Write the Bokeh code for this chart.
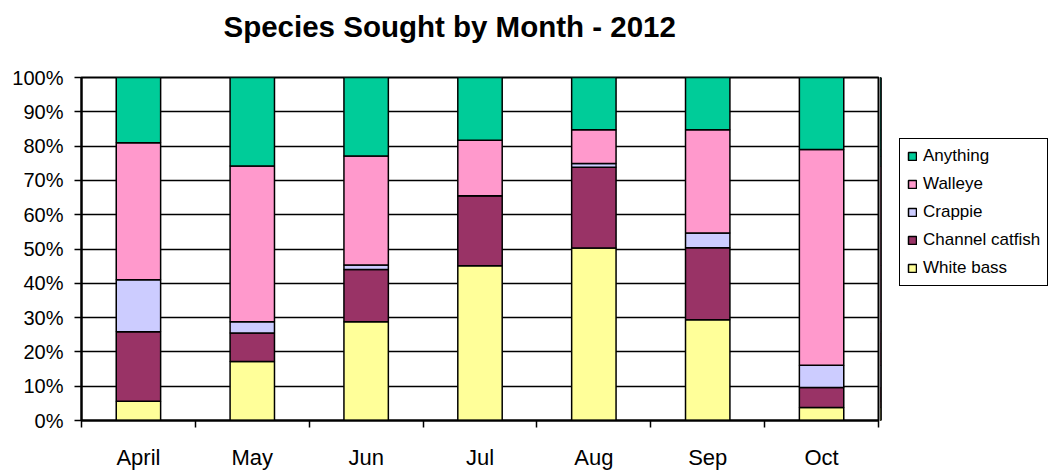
from bokeh.plotting import figure
from bokeh.layouts import row
from bokeh.models import (ColumnDataSource, FixedTicker, NumeralTickFormatter,
                          Legend, LegendItem, Range1d, Title)
from bokeh.embed import file_html
from bokeh.resources import INLINE

months = ["April", "May", "Jun", "Jul", "Aug", "Sep", "Oct"]
white_bass = [5.6, 17.2, 28.8, 45.1, 50.3, 29.4, 3.8]
channel_catfish = [20.3, 8.3, 15.2, 20.4, 23.5, 21.0, 5.8]
crappie = [15.1, 3.3, 1.3, 0.0, 1.1, 4.3, 6.5]
walleye = [40.0, 45.4, 31.8, 16.2, 9.9, 30.1, 62.9]
anything = [19.0, 25.8, 22.9, 18.3, 15.2, 15.2, 21.0]

series = ["White bass", "Channel catfish", "Crappie", "Walleye", "Anything"]
colors = ["#FFFF99", "#993366", "#CCCCFF", "#FF99CC", "#00CC99"]

FONT = "Liberation Sans"

data = {"x": [i + 0.5 for i in range(len(months))]}
for name, vals in zip(series, [white_bass, channel_catfish, crappie, walleye, anything]):
    data[name] = [v / 100.0 for v in vals]
src = ColumnDataSource(data)

p = figure(width=880, height=472, output_backend="svg", toolbar_location=None,
           x_range=Range1d(0, len(months)), y_range=Range1d(0, 1),
           min_border_left=81, min_border_right=2, min_border_top=77,
           min_border_bottom=51)

renderers = p.vbar_stack(series, x="x", width=0.39, source=src, color=colors,
                         line_color="black", line_width=1.5)

# spacer (nearest to frame) then the title above it
p.add_layout(Title(text=" ", text_font_size="10px", standoff=15), "above")
p.add_layout(Title(text="Species Sought by Month - 2012", align="left", offset=142,
                   standoff=14, text_font=FONT, text_font_size="29.5px",
                   text_font_style="bold", text_color="black"), "above")

# axes
p.yaxis.ticker = FixedTicker(ticks=[i / 10 for i in range(11)])
p.yaxis.formatter = NumeralTickFormatter(format="0%")
p.yaxis.major_tick_out = 7
p.yaxis.major_tick_in = 0
p.yaxis.minor_tick_out = 0
p.yaxis.minor_tick_in = 0
p.yaxis.major_label_standoff = 11
p.yaxis.major_label_text_font = FONT
p.yaxis.major_label_text_font_size = "20px"
p.yaxis.major_label_text_color = "black"
p.yaxis.axis_line_color = "black"
p.yaxis.axis_line_width = 2
p.yaxis.major_tick_line_color = "black"
p.yaxis.major_tick_line_width = 1.5

p.xaxis.ticker = FixedTicker(ticks=[i + 0.5 for i in range(len(months))],
                             minor_ticks=list(range(len(months) + 1)))
p.xaxis.major_label_overrides = {i + 0.5: m for i, m in enumerate(months)}
p.xaxis.major_tick_out = 0
p.xaxis.major_tick_in = 0
p.xaxis.minor_tick_out = 7
p.xaxis.minor_tick_in = 0
p.xaxis.minor_tick_line_color = "black"
p.xaxis.minor_tick_line_width = 1.5
p.xaxis.major_label_standoff = 17
p.xaxis.major_label_text_font = FONT
p.xaxis.major_label_text_font_size = "22px"
p.xaxis.major_label_text_color = "black"
p.xaxis.axis_line_color = "black"
p.xaxis.axis_line_width = 2

p.xgrid.grid_line_color = None
p.ygrid.ticker = FixedTicker(ticks=[i / 10 for i in range(11)])
p.ygrid.grid_line_color = "black"
p.ygrid.grid_line_width = 1.5
p.outline_line_color = "black"
p.outline_line_width = 2
p.outline_line_alpha = 1

# legend panel to the right (its own small canvas; its bars lie outside its view)
pl = figure(width=174, height=472, output_backend="svg", toolbar_location=None,
            x_range=Range1d(100, 101), y_range=Range1d(0, 1),
            x_axis_type=None, y_axis_type=None, min_border=0)
pl.grid.grid_line_color = None
pl.outline_line_color = None
leg_renderers = pl.vbar_stack(series, x="x", width=0.39, source=src, color=colors,
                              line_color="black", line_width=1.5)

items = [LegendItem(label=name, renderers=[r]) for name, r in zip(series, leg_renderers)][::-1]
legend = Legend(items=items, location=(19, 134), glyph_width=10, glyph_height=10,
                label_text_font=FONT, label_text_font_size="17px",
                label_text_color="black",
                label_height=20, spacing=8, padding=7, margin=0,
                label_standoff=6, border_line_color="black", border_line_width=1.5,
                border_line_alpha=1, background_fill_alpha=1)
pl.add_layout(legend, "center")

layout = row(p, pl, spacing=0)
open("out.html", "w").write(file_html(layout, INLINE))
